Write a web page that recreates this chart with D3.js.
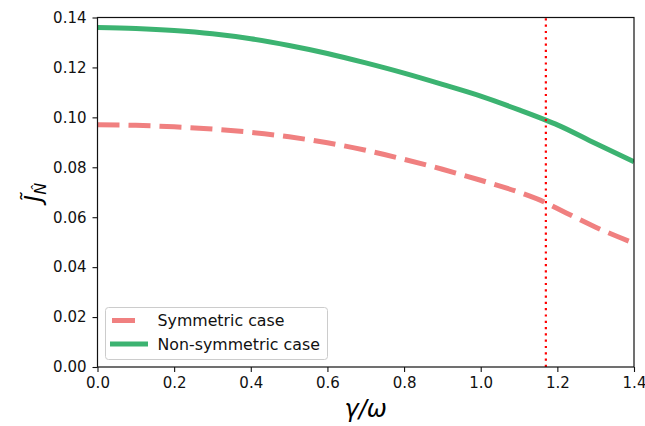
<!DOCTYPE html>
<html>
<head>
<meta charset="utf-8">
<script src="https://cdn.jsdelivr.net/npm/d3@7"></script>
<style>
  body { margin: 0; background: #fff; }
  svg { font-family: "DejaVu Sans", sans-serif; }
</style>
</head>
<body>
<div id="chart"></div>
<script>
// values
var gamma = [0.0, 0.1, 0.2, 0.3, 0.4, 0.5, 0.6, 0.7, 0.8, 0.9, 1.0, 1.1, 1.17, 1.2, 1.3, 1.4];
var symmetric = [0.0970, 0.0968, 0.0962, 0.0953, 0.0940, 0.0922, 0.0898, 0.0868, 0.0832, 0.0792, 0.0748, 0.0700, 0.0658, 0.0635, 0.0560, 0.0496];
var nonSymmetric = [0.1360, 0.1356, 0.1348, 0.1335, 0.1315, 0.1288, 0.1256, 0.1218, 0.1177, 0.1132, 0.1085, 0.1030, 0.0989, 0.0970, 0.0895, 0.0822];
var xTicks = [0.0, 0.2, 0.4, 0.6, 0.8, 1.0, 1.2, 1.4];
var yTicks = [0.00, 0.02, 0.04, 0.06, 0.08, 0.10, 0.12, 0.14];
var criticalGamma = 1.17;
var seriesNames = ["Symmetric case", "Non-symmetric case"];

var width = 645, height = 426;
var margin = {top: 17.5, right: 11, bottom: 59, left: 97.5};

var svg = d3.select("#chart").append("svg")
    .attr("width", width)
    .attr("height", height);

var x = d3.scaleLinear().domain([0, 1.4]).range([margin.left, width - margin.right]);
var y = d3.scaleLinear().domain([0, 0.14]).range([height - margin.bottom, margin.top]);

function pts(vals) {
  return gamma.map(function(g, i) { return [g, vals[i]]; });
}

var line = d3.line()
    .x(function(d) { return x(d[0]); })
    .y(function(d) { return y(d[1]); })
    .curve(d3.curveMonotoneX);

svg.append("clipPath").attr("id", "clip")
  .append("rect")
    .attr("x", margin.left).attr("y", margin.top)
    .attr("width", x(1.4) - x(0)).attr("height", y(0) - y(0.14));

var plot = svg.append("g").attr("clip-path", "url(#clip)");

plot.append("path")
    .attr("d", line(pts(symmetric)))
    .attr("fill", "none")
    .attr("stroke", "#f08080")
    .attr("stroke-width", 5)
    .attr("stroke-dasharray", "22,9");

plot.append("path")
    .attr("d", line(pts(nonSymmetric)))
    .attr("fill", "none")
    .attr("stroke", "#3cb371")
    .attr("stroke-width", 5);

plot.append("line")
    .attr("x1", x(criticalGamma)).attr("x2", x(criticalGamma))
    .attr("y1", y(0)).attr("y2", y(0.14))
    .attr("stroke", "red")
    .attr("stroke-width", 2.2)
    .attr("stroke-dasharray", "2.2,4.1");

// axes
var xAxis = d3.axisBottom(x).tickValues(xTicks).tickFormat(d3.format(".1f")).tickSizeOuter(0).tickSize(5).tickPadding(5);
var yAxis = d3.axisLeft(y).tickValues(yTicks).tickFormat(d3.format(".2f")).tickSizeOuter(0).tickSize(5).tickPadding(6);

svg.append("g")
    .attr("transform", "translate(0," + y(0) + ")")
    .call(xAxis);
svg.append("g")
    .attr("transform", "translate(" + x(0) + ",0)")
    .call(yAxis);

svg.selectAll(".tick text").attr("font-size", 15).attr("fill", "#111").attr("font-family", "DejaVu Sans");
svg.selectAll(".tick line").attr("stroke", "#111").attr("stroke-width", 1.1);
svg.selectAll(".domain").remove();

// frame
svg.append("rect")
    .attr("x", x(0)).attr("y", y(0.14))
    .attr("width", x(1.4) - x(0)).attr("height", y(0) - y(0.14))
    .attr("fill", "none")
    .attr("stroke", "#111")
    .attr("stroke-width", 1.2);

// axis labels
svg.append("text")
    .attr("x", (x(0) + x(1.4)) / 2)
    .attr("y", 417)
    .attr("text-anchor", "middle")
    .attr("font-size", 24)
    .attr("font-style", "italic")
    .text("\u03b3/\u03c9");

var yl = svg.append("text")
    .attr("transform", "translate(41," + ((y(0) + y(0.14)) / 2) + ") rotate(-90)")
    .attr("text-anchor", "middle")
    .attr("font-size", 23)
    .attr("font-style", "italic");
yl.append("tspan").text("J\u0303");
yl.append("tspan").attr("font-size", 16).attr("dy", 5).text("N\u0302");

// legend
var lg = svg.append("g");
lg.append("rect")
    .attr("x", 105.5).attr("y", 307.5)
    .attr("width", 222).attr("height", 52)
    .attr("rx", 3)
    .attr("fill", "#fff").attr("fill-opacity", 0.8)
    .attr("stroke", "#ccc");

var legendItems = [
  {name: seriesNames[0], color: "#f08080", dash: true, y: 320.5},
  {name: seriesNames[1], color: "#3cb371", dash: false, y: 344}
];
legendItems.forEach(function(d) {
  lg.append("line")
    .attr("x1", d.dash ? 112 : 110).attr("x2", d.dash ? 135 : 148)
    .attr("y1", d.y).attr("y2", d.y)
    .attr("stroke", d.color)
    .attr("stroke-width", 5);
  lg.append("text")
    .attr("x", 157.5).attr("y", d.y + 5.5)
    .attr("font-size", 15.8)
    .attr("fill", "#111")
    .text(d.name);
});
</script>
</body>
</html>
